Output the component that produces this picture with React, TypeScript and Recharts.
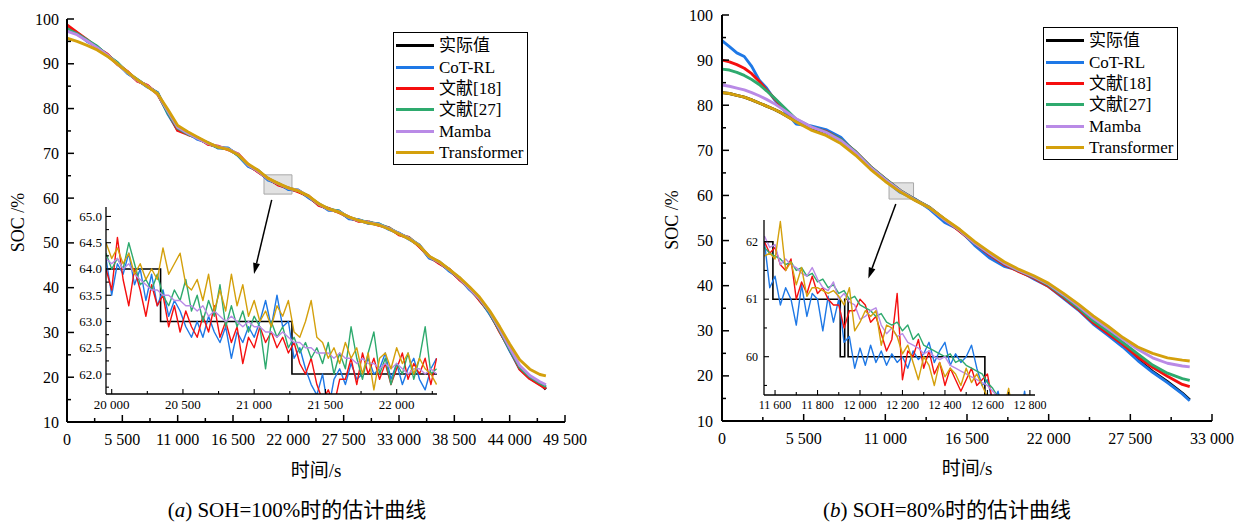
import React from 'react';
import { LineChart, Line, XAxis, YAxis, Legend, ReferenceArea, ReferenceLine, Label } from 'recharts';

const FONT = "'Liberation Serif', 'Times New Roman', 'Noto Sans CJK SC', serif";

// ---------- series meta ----------
const SERIES = [
  { key: 'actual', name: '实际值', color: '#000000' },
  { key: 'cot', name: 'CoT-RL', color: '#1e78e6' },
  { key: 'r18', name: '文献[18]', color: '#f50f0f' },
  { key: 'r27', name: '文献[27]', color: '#2eaa6e' },
  { key: 'mamba', name: 'Mamba', color: '#b98ae6' },
  { key: 'trans', name: 'Transformer', color: '#d4a00c' },
];

// ---------- (a) SOH = 100 % ----------
const timeA = [0, 1000, 2000, 3000, 4000, 5000, 6000, 7000, 8000, 9000, 10000, 11000, 12000, 13000, 14000, 15000, 16000, 17000, 18000, 19000, 20000, 21000, 22000, 23000, 24000, 25000, 26000, 27000, 28000, 29000, 30000, 31000, 32000, 33000, 34000, 35000, 36000, 37000, 38000, 39000, 40000, 41000, 42000, 43000, 44000, 45000, 46000, 47000, 47600];
const actualA = [98.0, 96.8, 95.2, 93.7, 92.0, 90.1, 88.1, 86.3, 85.0, 83.4, 79.2, 75.4, 74.4, 73.3, 72.2, 71.4, 71.0, 69.7, 67.3, 66.0, 64.2, 63.1, 62.1, 61.6, 60.3, 58.6, 57.5, 57.0, 55.6, 55.0, 54.5, 54.1, 53.2, 52.0, 51.0, 49.4, 46.8, 45.6, 43.9, 42.0, 39.8, 37.4, 34.4, 30.4, 26.2, 22.1, 20.0, 18.6, 17.3];
const cotA = [98.3, 96.9, 95.0, 93.8, 91.8, 90.2, 87.9, 86.4, 84.8, 83.6, 78.9, 75.2, 74.6, 73.1, 72.4, 71.2, 71.2, 69.5, 67.1, 66.2, 64.0, 63.3, 61.9, 61.8, 60.1, 58.8, 57.3, 57.2, 55.4, 55.2, 54.3, 54.3, 53.0, 52.2, 50.8, 49.6, 46.6, 45.8, 43.7, 42.2, 39.6, 37.6, 34.2, 30.6, 26.0, 21.9, 19.8, 18.4, 17.6];
const ref18A = [98.7, 97.0, 95.4, 93.5, 92.2, 89.9, 88.3, 86.1, 85.2, 83.2, 79.4, 75.1, 74.2, 73.5, 72.0, 71.6, 70.8, 69.9, 67.5, 65.8, 64.4, 62.9, 62.3, 61.4, 60.5, 58.4, 57.7, 56.8, 55.8, 54.8, 54.7, 53.9, 53.4, 51.8, 51.2, 49.2, 47.0, 45.4, 44.1, 41.8, 40.0, 37.2, 34.6, 30.2, 26.4, 21.8, 19.7, 18.3, 17.5];
const ref27A = [97.8, 96.7, 95.3, 93.9, 91.9, 90.3, 88.0, 86.5, 84.9, 83.5, 79.1, 75.6, 74.3, 73.4, 72.3, 71.3, 71.1, 69.6, 67.4, 66.1, 64.3, 63.2, 62.2, 61.7, 60.4, 58.7, 57.6, 57.1, 55.7, 55.1, 54.6, 54.2, 53.3, 52.1, 51.1, 49.5, 46.9, 45.7, 44.0, 42.1, 39.9, 37.5, 34.5, 30.5, 26.3, 22.2, 20.1, 18.7, 17.9];
const mambaA = [97.3, 96.5, 95.1, 93.6, 92.0, 90.0, 88.1, 86.3, 85.0, 83.3, 79.5, 75.8, 74.5, 73.3, 72.2, 71.5, 71.0, 69.8, 67.4, 66.0, 64.3, 63.2, 62.2, 61.7, 60.4, 58.7, 57.5, 57.0, 55.7, 55.0, 54.5, 54.1, 53.2, 52.1, 51.0, 49.5, 46.9, 45.7, 44.0, 42.1, 39.9, 37.6, 34.7, 30.8, 26.6, 22.6, 20.4, 19.0, 18.3];
const transA = [95.7, 95.0, 94.1, 93.1, 91.7, 90.0, 88.2, 86.4, 84.9, 83.3, 79.9, 76.2, 74.8, 73.6, 72.4, 71.4, 70.9, 69.7, 67.6, 66.2, 64.4, 63.3, 62.3, 61.6, 60.5, 58.8, 57.6, 56.9, 55.8, 55.0, 54.4, 54.0, 53.1, 52.0, 50.9, 49.4, 47.0, 45.8, 44.1, 42.3, 40.2, 37.9, 34.9, 31.3, 27.4, 23.9, 21.8, 20.6, 20.3];

// zoomed window of (a)
const zoomTimeA = [19960, 20000, 20040, 20080, 20120, 20160, 20200, 20240, 20280, 20320, 20360, 20400, 20440, 20480, 20520, 20560, 20600, 20640, 20680, 20720, 20760, 20800, 20840, 20880, 20920, 20960, 21000, 21040, 21080, 21120, 21160, 21200, 21240, 21280, 21320, 21360, 21400, 21440, 21480, 21520, 21560, 21600, 21640, 21680, 21720, 21760, 21800, 21840, 21880, 21920, 21960, 22000, 22040, 22080, 22120, 22160, 22200, 22240, 22280];
const zCotA = [64.2, 63.5, 64.1, 63.9, 64.3, 63.7, 64.0, 63.4, 63.9, 63.3, 63.6, 63.1, 63.4, 63.2, 62.9, 62.7, 63.0, 62.7, 63.1, 62.8, 62.6, 62.9, 62.3, 62.8, 62.6, 62.9, 62.7, 63.0, 63.4, 62.9, 63.5, 62.9, 63.0, 62.3, 62.5, 62.1, 61.8, 61.6, 62.0, 61.3, 61.9, 62.1, 61.8, 62.2, 61.9, 62.0, 62.3, 62.0, 62.1, 62.4, 61.9, 62.2, 61.8, 62.1, 62.3, 61.9, 61.7, 62.1, 62.3];
const zRef18A = [64.0, 63.6, 64.6, 63.8, 63.3, 64.0, 63.6, 63.1, 63.7, 63.3, 63.5, 62.9, 63.3, 62.8, 63.2, 62.9, 62.7, 63.1, 62.8, 63.3, 62.7, 63.0, 62.6, 62.9, 62.2, 62.7, 62.5, 62.9, 62.6, 62.8, 62.5, 62.7, 62.4, 62.6, 62.2, 62.0, 62.3, 61.8, 61.5, 61.7, 61.4, 61.9, 61.9, 62.3, 61.8, 62.4, 62.0, 62.3, 61.9, 62.2, 61.8, 62.1, 62.4, 61.9, 62.2, 62.0, 62.3, 61.8, 62.3];
const zRef27A = [64.3, 64.0, 64.2, 64.0, 64.5, 64.1, 63.7, 63.8, 63.6, 63.9, 63.5, 63.3, 63.6, 63.4, 63.8, 63.2, 63.5, 63.0, 63.4, 63.1, 63.7, 62.9, 63.3, 62.9, 63.2, 62.8, 63.1, 62.9, 62.1, 63.0, 62.7, 62.9, 62.5, 62.7, 62.4, 62.6, 62.3, 62.5, 62.2, 62.6, 62.0, 62.4, 62.1, 62.9, 62.3, 61.9, 62.4, 62.8, 62.0, 62.3, 61.8, 62.2, 62.0, 62.4, 61.9, 62.3, 62.9, 62.0, 62.1];
const zMambaA = [64.2, 64.1, 64.2, 64.0, 64.1, 63.9, 63.8, 63.7, 63.6, 63.6, 63.5, 63.5, 63.4, 63.4, 63.3, 63.3, 63.2, 63.3, 63.1, 63.2, 63.1, 63.0, 63.1, 63.0, 62.9, 63.0, 62.9, 62.9, 62.8, 62.8, 62.7, 62.8, 62.7, 62.6, 62.6, 62.5, 62.5, 62.4, 62.4, 62.4, 62.3, 62.4, 62.3, 62.3, 62.2, 62.3, 62.2, 62.2, 62.1, 62.2, 62.1, 62.2, 62.1, 62.0, 62.1, 62.1, 62.0, 62.1, 62.0];
const zTransA = [64.5, 64.2, 64.4, 64.1, 64.3, 63.9, 64.1, 63.8, 64.0, 63.8, 64.4, 63.9, 64.1, 64.3, 63.7, 63.6, 63.8, 63.4, 63.9, 63.2, 63.6, 63.2, 63.9, 63.3, 63.7, 63.1, 63.4, 63.0, 63.2, 62.9, 63.3, 63.1, 63.4, 62.8, 62.7, 63.0, 63.4, 62.7, 62.6, 62.3, 62.5, 62.2, 62.6, 62.3, 62.5, 62.0, 62.4, 61.7, 62.3, 62.4, 62.1, 62.5, 62.2, 62.4, 62.0, 62.3, 62.1, 62.0, 61.8];
const stepTimeA = [19960, 20343, 21265, 22283];
const stepValA = [64.0, 63.0, 62.0, 62.0];

// ---------- (b) SOH = 80 % ----------
const timeB = [0, 500, 1000, 1500, 2000, 2500, 3000, 3500, 4000, 5000, 6000, 7000, 8000, 9000, 10000, 11000, 12000, 13000, 14000, 15000, 16000, 17000, 18000, 19000, 20000, 21000, 22000, 23000, 24000, 25000, 26000, 27000, 28000, 29000, 30000, 31000, 31500];
const actualB = [82.8, 82.6, 82.2, 81.8, 81.2, 80.5, 79.8, 79.1, 78.3, 76.4, 75.0, 74.0, 72.3, 69.6, 66.3, 63.6, 61.0, 59.0, 57.2, 54.6, 52.2, 49.4, 47.0, 44.8, 43.2, 41.8, 40.0, 37.6, 35.0, 32.0, 29.4, 26.7, 23.6, 21.0, 18.7, 16.2, 14.7];
const cotB = [94.3, 93.0, 91.6, 90.8, 88.6, 85.6, 83.8, 81.4, 79.6, 75.8, 75.4, 74.6, 72.9, 69.4, 66.0, 63.3, 60.7, 59.2, 56.9, 54.0, 52.4, 49.0, 46.2, 44.3, 43.4, 41.5, 39.8, 37.2, 34.6, 31.5, 29.0, 26.4, 23.4, 20.8, 18.5, 16.0, 14.5];
const ref18B = [90.0, 89.6, 89.0, 88.2, 87.0, 85.3, 83.4, 81.6, 79.8, 76.6, 75.1, 74.2, 72.4, 69.7, 66.4, 63.7, 61.1, 59.1, 57.3, 54.7, 52.1, 49.5, 46.9, 44.7, 43.1, 41.7, 39.8, 37.4, 34.8, 31.8, 29.4, 27.0, 24.2, 21.9, 19.9, 18.1, 17.6];
const ref27B = [88.0, 87.8, 87.3, 86.6, 85.7, 84.6, 83.2, 81.7, 80.1, 76.9, 75.2, 74.1, 72.4, 69.7, 66.4, 63.7, 61.1, 59.1, 57.3, 54.7, 52.3, 49.5, 47.1, 44.9, 43.3, 41.9, 40.1, 37.7, 35.1, 32.2, 29.9, 27.4, 24.9, 22.4, 20.6, 19.4, 19.0];
const mambaB = [84.5, 84.2, 83.8, 83.4, 82.8, 82.1, 81.3, 80.4, 79.3, 77.0, 75.2, 74.0, 72.2, 69.5, 66.2, 63.5, 61.0, 59.0, 57.2, 54.6, 52.3, 49.5, 47.2, 45.0, 43.4, 42.0, 40.3, 38.0, 35.5, 32.8, 30.5, 28.1, 25.9, 24.0, 22.8, 22.2, 22.0];
const transB = [82.8, 82.6, 82.2, 81.8, 81.2, 80.5, 79.8, 79.1, 78.3, 76.3, 74.5, 73.3, 71.5, 68.9, 65.8, 63.1, 60.8, 58.9, 57.2, 54.8, 52.5, 49.8, 47.5, 45.3, 43.6, 42.2, 40.5, 38.3, 35.9, 33.3, 31.0, 28.5, 26.4, 25.0, 24.0, 23.5, 23.3];

// zoomed window of (b)
const zoomTimeB = [11550, 11575, 11600, 11625, 11650, 11675, 11700, 11725, 11750, 11775, 11800, 11825, 11850, 11875, 11900, 11925, 11950, 11975, 12000, 12025, 12050, 12075, 12100, 12125, 12150, 12175, 12200, 12225, 12250, 12275, 12300, 12325, 12350, 12375, 12400, 12425, 12450, 12475, 12500, 12525, 12550, 12575, 12600, 12625, 12650, 12675, 12700, 12725, 12750, 12775, 12800];
const zCotB = [62.0, 61.2, 61.4, 60.9, 61.2, 61.0, 60.55, 61.25, 60.7, 61.1, 61.0, 60.45, 61.05, 60.6, 61.0, 60.25, 60.35, 59.8, 60.15, 59.85, 60.2, 59.9, 60.1, 59.85, 60.05, 59.9, 60.0, 59.8, 60.1, 59.95, 60.05, 60.25, 59.9, 60.1, 60.25, 59.85, 60.05, 59.9, 60.0, 60.2, 59.8, 59.5, 59.6, 59.2, 59.4, 59.0, 58.9, 59.0, 58.8, 59.4, 58.7];
const zRef18B = [62.0, 61.8, 61.9, 61.6, 61.5, 61.7, 61.0, 61.3, 61.1, 61.4, 61.1, 61.2, 61.0, 60.9, 60.9, 60.5, 60.8, 60.8, 61.0, 60.9, 60.6, 60.7, 60.4, 60.1, 60.3, 61.1, 59.6, 60.1, 60.0, 60.3, 59.8, 60.1, 59.7, 59.9, 59.5, 59.8, 59.6, 59.4, 59.6, 59.8, 59.5, 59.6, 59.7, 59.2, 59.0, 58.9, 58.7, 58.6, 58.5, 58.4, 58.3];
const zRef27B = [61.9, 61.8, 61.75, 61.7, 61.6, 61.65, 61.5, 61.55, 61.4, 61.45, 61.3, 61.35, 61.2, 61.25, 61.1, 61.15, 61.0, 61.05, 60.9, 60.85, 60.8, 60.7, 60.75, 60.6, 60.55, 60.6, 60.45, 60.55, 60.3, 60.4, 60.2, 60.15, 60.1, 60.05, 60.0, 60.05, 59.9, 59.95, 59.85, 59.8, 59.75, 59.7, 59.55, 59.45, 59.3, 59.2, 59.1, 59.0, 58.9, 58.8, 58.7];
const zMambaB = [62.1, 61.9, 61.95, 61.6, 61.7, 61.6, 61.55, 61.45, 61.4, 61.55, 61.35, 61.2, 61.15, 61.3, 61.0, 61.1, 60.95, 60.9, 60.65, 60.7, 60.8, 60.85, 60.55, 60.4, 60.5, 60.35, 60.4, 60.25, 60.2, 60.15, 60.05, 60.1, 60.0, 59.95, 60.0, 59.85, 59.8, 59.75, 59.7, 59.65, 59.6, 59.55, 59.5, 59.4, 59.3, 59.2, 59.1, 59.0, 58.9, 58.8, 58.7];
const zTransB = [61.75, 61.8, 61.7, 62.35, 61.5, 61.65, 61.25, 61.55, 61.05, 61.2, 61.2, 61.15, 61.1, 61.15, 61.05, 60.9, 61.2, 60.45, 60.6, 60.8, 60.7, 60.8, 60.2, 60.55, 60.5, 60.35, 60.05, 60.2, 59.9, 59.6, 60.0, 59.85, 59.5, 59.9, 59.65, 59.8, 59.7, 59.5, 59.8, 59.55, 59.7, 59.5, 59.3, 59.0, 58.8, 59.05, 59.45, 58.9, 58.7, 58.6, 58.5];
const stepTimeB = [11548, 11590, 11907, 11928, 11944, 12588, 12824];
const stepValB = [62.0, 61.0, 60.0, 61.0, 60.0, 59.0, 59.0];

// ---------- ticks ----------
const xMajorA = [0, 5500, 11000, 16500, 22000, 27500, 33000, 38500, 44000, 49500];
const xMinorA = [2750, 8250, 13750, 19250, 24750, 30250, 35750, 41250, 46750];
const xMajorB = [0, 5500, 11000, 16500, 22000, 27500, 33000];
const xMinorB = [2750, 8250, 13750, 19250, 24750, 30250];
const yMajor = [10, 20, 30, 40, 50, 60, 70, 80, 90, 100];
const yMinor = [15, 25, 35, 45, 55, 65, 75, 85, 95];
const xMajorZA = [20000, 20500, 21000, 21500, 22000];
const xMinorZA = [20250, 20750, 21250, 21750, 22250];
const yMajorZA = [62.0, 62.5, 63.0, 63.5, 64.0, 64.5, 65.0];
const yMinorZA = [61.75, 62.25, 62.75, 63.25, 63.75, 64.25, 64.75];
const xMajorZB = [11600, 11800, 12000, 12200, 12400, 12600, 12800];
const xMinorZB = [11700, 11900, 12100, 12300, 12500, 12700];
const yMajorZB = [60, 61, 62];
const yMinorZB = [59.5, 60.5, 61.5];

// ---------- rows ----------
const buildRows = (t: number[], cols: Record<string, number[]>) =>
  t.map((v, i) => {
    const row: Record<string, number> = { t: v };
    Object.keys(cols).forEach((k) => { row[k] = cols[k][i]; });
    return row;
  });

const rowsA = buildRows(timeA, { actual: actualA, cot: cotA, r18: ref18A, r27: ref27A, mamba: mambaA, trans: transA });
const rowsB = buildRows(timeB, { actual: actualB, cot: cotB, r18: ref18B, r27: ref27B, mamba: mambaB, trans: transB });
const zoomRowsA = buildRows(zoomTimeA, { cot: zCotA, r18: zRef18A, r27: zRef27A, mamba: zMambaA, trans: zTransA });
const zoomRowsB = buildRows(zoomTimeB, { cot: zCotB, r18: zRef18B, r27: zRef27B, mamba: zMambaB, trans: zTransB });
const stepRowsA = buildRows(stepTimeA, { actual: stepValA });
const stepRowsB = buildRows(stepTimeB, { actual: stepValB });

// ---------- helpers ----------
const spaced = (v: number) => {
  if (v < 1000) return String(v);
  const k = Math.floor(v / 1000);
  const r = Math.round(v % 1000);
  return `${k} ${String(r).padStart(3, '0')}`;
};

type TickCfg = {
  major: number[];
  fmt: (v: number) => string;
  fontSize: number;
  majorLen: number;
  minorLen: number;
  dy: number;
  gap?: number;
  sw: number;
};

const makeXTick = (cfg: TickCfg) => (props: any) => {
  const { x, y, payload } = props;
  const v = payload.value;
  const isMajor = cfg.major.includes(v);
  return (
    <g>
      <line x1={x} y1={y} x2={x} y2={y - (isMajor ? cfg.majorLen : cfg.minorLen)} stroke="#000" strokeWidth={cfg.sw} />
      {isMajor && (
        <text x={x} y={y + cfg.dy} textAnchor="middle" fontSize={cfg.fontSize} fontFamily={FONT} fill="#000">
          {cfg.fmt(v)}
        </text>
      )}
    </g>
  );
};

const makeYTick = (cfg: TickCfg) => (props: any) => {
  const { x, y, payload } = props;
  const v = payload.value;
  const isMajor = cfg.major.includes(v);
  return (
    <g>
      <line x1={x} y1={y} x2={x + (isMajor ? cfg.majorLen : cfg.minorLen)} y2={y} stroke="#000" strokeWidth={cfg.sw} />
      {isMajor && (
        <text x={x - (cfg.gap || 0)} y={y + cfg.dy} textAnchor="end" fontSize={cfg.fontSize} fontFamily={FONT} fill="#000">
          {cfg.fmt(v)}
        </text>
      )}
    </g>
  );
};

const Arrow = (p: any) => {
  const { x1, y1, x2, y2 } = p;
  const dx = x2 - x1;
  const dy = y2 - y1;
  const len = Math.hypot(dx, dy) || 1;
  const ux = dx / len;
  const uy = dy / len;
  const hl = 11;
  const hw = 3.5;
  const bx = x2 - ux * hl;
  const by = y2 - uy * hl;
  const pts = `${x2},${y2} ${bx - uy * hw},${by + ux * hw} ${bx + uy * hw},${by - ux * hw}`;
  return (
    <g>
      <line x1={x1} y1={y1} x2={bx} y2={by} stroke="#000" strokeWidth={1.5} />
      <polygon points={pts} fill="#000" />
    </g>
  );
};

const ORDER = SERIES.map((s) => s.name);

const LegendBox = (props: any) => {
  const items = [...((props.payload || []) as any[])].sort(
    (a, b) => ORDER.indexOf(String(a.value)) - ORDER.indexOf(String(b.value)),
  );
  return (
    <div style={{ border: '1.5px solid #000', background: '#fff', boxSizing: 'border-box', padding: '2px 0 1px 0', width: 135 }}>
      {items.map((it) => (
        <div key={String(it.value)} style={{ display: 'flex', alignItems: 'center', height: 21.4 }}>
          <span style={{ display: 'inline-block', width: 38, height: 3, background: it.color, marginLeft: 2, marginRight: 5 }} />
          <span style={{ fontSize: 17, fontFamily: FONT, lineHeight: '21px', color: '#000', whiteSpace: 'nowrap' }}>{it.value}</span>
        </div>
      ))}
    </div>
  );
};

const xTitle = (text: string, dy: number) => (props: any) => {
  const vb = props.viewBox;
  return (
    <text x={vb.x + vb.width / 2} y={vb.y + dy} textAnchor="middle" fontSize={19} fontFamily={FONT} fill="#000">
      {text}
    </text>
  );
};

const yTitle = (text: string, dx: number) => (props: any) => {
  const vb = props.viewBox;
  const cx = vb.x + vb.width + dx;
  const cy = vb.y + vb.height / 2 + 2;
  return (
    <text x={cx} y={cy} transform={`rotate(-90 ${cx} ${cy})`} textAnchor="middle" fontSize={18} fontFamily={FONT} fill="#000">
      {text}
    </text>
  );
};

const mainX = (major: number[]) => makeXTick({ major, fmt: spaced, fontSize: 16, majorLen: 7, minorLen: 4, dy: 22.6, sw: 1.5 });
const mainY = (gap: number) => makeYTick({ major: yMajor, fmt: (v) => String(v), fontSize: 16, majorLen: 7, minorLen: 4, dy: 5.5, gap, sw: 1.5 });

const seriesLines = (width: number, skipActual: boolean) =>
  SERIES.filter((s) => !(skipActual && s.key === 'actual')).map((s) => (
    <Line
      key={s.key}
      type="linear"
      dataKey={s.key}
      name={s.name}
      stroke={s.color}
      strokeWidth={width}
      strokeLinejoin="round"
      dot={false}
      activeDot={false}
      isAnimationActive={false}
    />
  ));

const W = 620;
const H = 480;
const AX_H = 30; // x-axis band height
const AX_W = 40; // y-axis band width

const Caption = ({ left, letter, text }: { left: number; letter: string; text: string }) => (
  <div
    style={{
      position: 'absolute',
      left,
      top: 497,
      transform: 'translateX(-50%)',
      whiteSpace: 'nowrap',
      fontFamily: FONT,
      fontSize: 21,
      lineHeight: '26px',
      color: '#000',
    }}
  >
    (<span style={{ fontStyle: 'italic' }}>{letter}</span>) {text}
  </div>
);

export default function App() {
  return (
    <div style={{ position: 'absolute', left: 0, top: 0, width: 1236, height: 525, background: '#fff', overflow: 'hidden' }}>
      {/* ---------------- panel (a) ---------------- */}
      <div style={{ position: 'absolute', left: 0, top: 0 }}>
        <LineChart width={W} height={H} data={rowsA} margin={{ top: 19, left: 67 - AX_W, right: W - 565, bottom: H - 422 - AX_H }}>
          <XAxis
            dataKey="t"
            type="number"
            domain={[0, 49500]}
            allowDataOverflow
            ticks={[...xMajorA, ...xMinorA]}
            interval={0}
            height={AX_H}
            tickSize={0}
            tickMargin={0}
            tickLine={false}
            axisLine={{ stroke: '#000', strokeWidth: 2 }}
            tick={mainX(xMajorA)}
          >
            <Label content={xTitle('时间/s', 55)} />
          </XAxis>
          <YAxis
            type="number"
            domain={[10, 100]}
            allowDataOverflow
            ticks={[...yMajor, ...yMinor]}
            interval={0}
            width={AX_W}
            tickSize={0}
            tickMargin={0}
            tickLine={false}
            axisLine={{ stroke: '#000', strokeWidth: 2 }}
            tick={mainY(8)}
          >
            <Label content={yTitle('SOC /%', -43)} />
          </YAxis>
          {seriesLines(2.9, false)}
          <ReferenceArea x1={19580} x2={22360} y1={60.9} y2={65.2} fill="#cfcfcf" fillOpacity={0.6} stroke="#a8a8a8" strokeWidth={1} />
          <ReferenceLine segment={[{ x: 20346, y: 59.6 }, { x: 18586, y: 43.05 }]} shape={Arrow} />
          <Legend layout="vertical" align="center" verticalAlign="middle" wrapperStyle={{ left: 393, top: 32, width: 135 }} content={(p: any) => <LegendBox {...p} />} />
        </LineChart>
      </div>
      <div style={{ position: 'absolute', left: 0, top: 0 }}>
        <LineChart width={W} height={H} data={zoomRowsA} margin={{ top: 207, left: 106 - AX_W, right: W - 437, bottom: H - 394 - AX_H }}>
          <XAxis
            dataKey="t"
            type="number"
            domain={[19960, 22283]}
            allowDataOverflow
            ticks={[...xMajorZA, ...xMinorZA]}
            interval={0}
            height={AX_H}
            tickSize={0}
            tickMargin={0}
            tickLine={false}
            axisLine={{ stroke: '#000', strokeWidth: 1.3 }}
            tick={makeXTick({ major: xMajorZA, fmt: spaced, fontSize: 13, majorLen: 5, minorLen: 3, dy: 15.3, sw: 1.1 })}
          />
          <YAxis
            type="number"
            domain={[61.62, 65.18]}
            allowDataOverflow
            ticks={[...yMajorZA, ...yMinorZA]}
            interval={0}
            width={AX_W}
            tickSize={0}
            tickMargin={0}
            tickLine={false}
            axisLine={{ stroke: '#000', strokeWidth: 1.3 }}
            tick={makeYTick({ major: yMajorZA, fmt: (v) => v.toFixed(1), fontSize: 13, majorLen: 5, minorLen: 3, dy: 4.5, gap: 4, sw: 1.1 })}
          />
          <Line data={stepRowsA} type="stepAfter" dataKey="actual" stroke="#000" strokeWidth={1.6} dot={false} activeDot={false} isAnimationActive={false} />
          {seriesLines(1.4, true)}
        </LineChart>
      </div>
      <Caption left={297} letter="a" text="SOH=100%时的估计曲线" />

      {/* ---------------- panel (b) ---------------- */}
      <div style={{ position: 'absolute', left: 620, top: 0 }}>
        <LineChart width={616} height={H} data={rowsB} margin={{ top: 15, left: 102 - AX_W, right: 616 - 592, bottom: H - 421 - AX_H }}>
          <XAxis
            dataKey="t"
            type="number"
            domain={[0, 33000]}
            allowDataOverflow
            ticks={[...xMajorB, ...xMinorB]}
            interval={0}
            height={AX_H}
            tickSize={0}
            tickMargin={0}
            tickLine={false}
            axisLine={{ stroke: '#000', strokeWidth: 2 }}
            tick={mainX(xMajorB)}
          >
            <Label content={xTitle('时间/s', 54)} />
          </XAxis>
          <YAxis
            type="number"
            domain={[10, 100]}
            allowDataOverflow
            ticks={[...yMajor, ...yMinor]}
            interval={0}
            width={AX_W}
            tickSize={0}
            tickMargin={0}
            tickLine={false}
            axisLine={{ stroke: '#000', strokeWidth: 2 }}
            tick={mainY(9)}
          >
            <Label content={yTitle('SOC /%', -44)} />
          </YAxis>
          {seriesLines(2.9, false)}
          <ReferenceArea x1={11250} x2={12900} y1={59.2} y2={62.8} fill="#cfcfcf" fillOpacity={0.6} stroke="#a8a8a8" strokeWidth={1} />
          <ReferenceLine segment={[{ x: 11705, y: 58.1 }, { x: 9853, y: 41.6 }]} shape={Arrow} />
          <Legend layout="vertical" align="center" verticalAlign="middle" wrapperStyle={{ left: 423, top: 27, width: 135 }} content={(p: any) => <LegendBox {...p} />} />
        </LineChart>
      </div>
      <div style={{ position: 'absolute', left: 620, top: 0 }}>
        <LineChart width={616} height={H} data={zoomRowsB} margin={{ top: 220, left: 144 - AX_W, right: 616 - 415, bottom: H - 395 - AX_H }}>
          <XAxis
            dataKey="t"
            type="number"
            domain={[11548, 12824]}
            allowDataOverflow
            ticks={[...xMajorZB, ...xMinorZB]}
            interval={0}
            height={AX_H}
            tickSize={0}
            tickMargin={0}
            tickLine={false}
            axisLine={{ stroke: '#000', strokeWidth: 1.3 }}
            tick={makeXTick({ major: xMajorZB, fmt: spaced, fontSize: 12, majorLen: 5, minorLen: 3, dy: 14, sw: 1.1 })}
          />
          <YAxis
            type="number"
            domain={[59.334, 62.377]}
            allowDataOverflow
            ticks={[...yMajorZB, ...yMinorZB]}
            interval={0}
            width={AX_W}
            tickSize={0}
            tickMargin={0}
            tickLine={false}
            axisLine={{ stroke: '#000', strokeWidth: 1.3 }}
            tick={makeYTick({ major: yMajorZB, fmt: (v) => String(v), fontSize: 12, majorLen: 5, minorLen: 3, dy: 4.2, gap: 6, sw: 1.1 })}
          />
          <Line data={stepRowsB} type="stepAfter" dataKey="actual" stroke="#000" strokeWidth={1.6} dot={false} activeDot={false} isAnimationActive={false} />
          {seriesLines(1.4, true)}
        </LineChart>
      </div>
      <Caption left={947} letter="b" text="SOH=80%时的估计曲线" />
    </div>
  );
}
